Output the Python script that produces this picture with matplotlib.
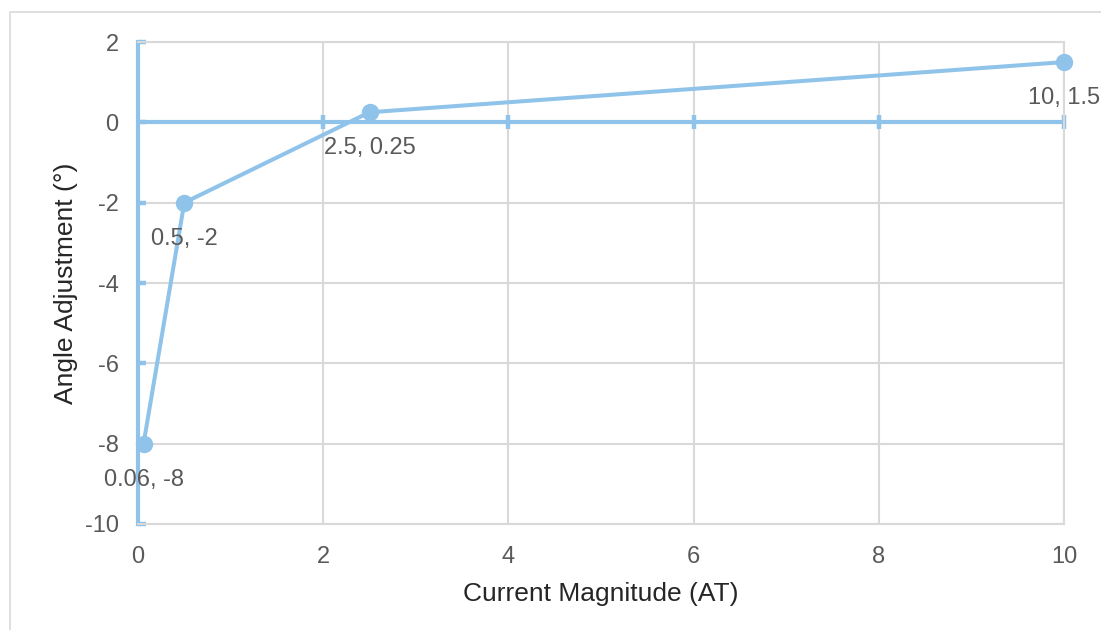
import matplotlib.pyplot as plt
from matplotlib.patches import Rectangle
import numpy as np

# datos de la serie
corriente = np.array([0.06, 0.5, 2.5, 10])
angulo = np.array([-8, -2, 0.25, 1.5])
xticks = [0, 2, 4, 6, 8, 10]
yticks = [-10, -8, -6, -4, -2, 0, 2]

azul = "#8FC3EA"
gris = "#D9D9D9"
texto = "#595959"

plt.rcParams["font.family"] = ["Liberation Sans", "DejaVu Sans"]
plt.rcParams["axes.unicode_minus"] = False

fig = plt.figure(figsize=(11.01, 6.30), dpi=100)
ax = fig.add_axes([138 / 1101, 1 - 524 / 630, 926 / 1101, 482 / 630])

# borde exterior del grafico
fig.patches.append(Rectangle((10 / 1101, -0.1), 1.2, 1 - 12 / 630 + 0.1,
                             transform=fig.transFigure, fill=False,
                             edgecolor=gris, lw=1.2))

ax.set_xlim(0, 10)
ax.set_ylim(-10, 2)
ax.set_xticks(xticks)
ax.set_yticks(yticks)
ax.grid(True, color=gris, lw=1.5)
ax.set_axisbelow(True)

for lado in ["top", "right", "bottom"]:
    ax.spines[lado].set_color(gris)
    ax.spines[lado].set_linewidth(1.5)
ax.spines["left"].set_color(azul)
ax.spines["left"].set_linewidth(3)

ax.tick_params(axis="y", direction="in", length=6, width=3.2, color=azul,
               labelcolor=texto, labelsize=17, pad=14)
ax.tick_params(axis="x", length=0, labelcolor=texto, labelsize=17, pad=16)

# eje horizontal en y=0 con marcas cruzadas
ax.axhline(0, color=azul, lw=3, zorder=2)
ax.plot(xticks[1:], np.zeros(len(xticks) - 1), ls="none", marker="|", ms=10.5,
        mew=3.2, color=azul, zorder=2, clip_on=False)

ax.plot(corriente, angulo, color=azul, lw=2.9, marker="o", ms=11.5,
        zorder=3, clip_on=False)

for x, y in zip(corriente, angulo):
    ax.annotate(f"{x:g}, {y:g}", (x, y), xytext=(0, -18), textcoords="offset points",
                ha="center", va="top", fontsize=17, color=texto)

ax.set_xlabel("Current Magnitude (AT)", fontsize=19, color="#262626", labelpad=10)
ax.set_ylabel("Angle Adjustment (°)", fontsize=19, color="#262626", labelpad=5)

fig.savefig("out.png", dpi=100)
